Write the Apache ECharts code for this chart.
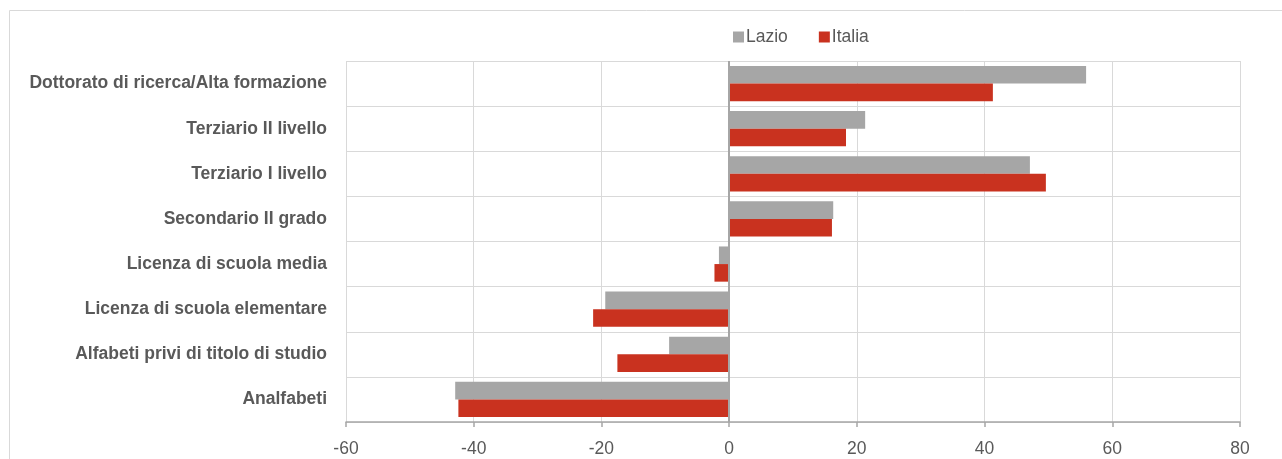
<!DOCTYPE html>
<html>
<head>
<meta charset="utf-8">
<script src="https://cdn.jsdelivr.net/npm/echarts@6/dist/echarts.min.js"></script>
<style>
  html, body { margin: 0; padding: 0; background: #fff; }
  #chart { width: 1282px; height: 459px; }
</style>
</head>
<body>
<div id="chart"></div>
<script>
// Education levels, listed top to bottom
const categories = [
  'Dottorato di ricerca/Alta formazione',
  'Terziario II livello',
  'Terziario I livello',
  'Secondario II grado',
  'Licenza di scuola media',
  'Licenza di scuola elementare',
  'Alfabeti privi di titolo di studio',
  'Analfabeti'
];
const lazio  = [55.9, 21.3, 47.1, 16.3, -1.6, -19.4, -9.4, -42.9];
const italia = [41.3, 18.3, 49.6, 16.1, -2.3, -21.3, -17.5, -42.4];
const seriesNames = ['Lazio', 'Italia'];
const xTicks = { min: -60, max: 80, step: 20 };

const FONT = "'Liberation Sans', Arial, sans-serif";
const TEXT = '#595959';
const GRID = '#d9d9d9';

const chart = echarts.init(document.getElementById('chart'), null, { renderer: 'canvas' });

chart.setOption({
  animation: false,
  textStyle: { fontFamily: FONT },
  graphic: [{
    type: 'rect',
    shape: { x: 9.5, y: 10.5, width: 1400, height: 500 },
    style: { fill: 'none', stroke: GRID, lineWidth: 1 },
    silent: true,
    z: -10
  }],
  legend: {
    data: seriesNames,
    left: 728,
    top: 23,
    itemWidth: 11,
    itemHeight: 11,
    itemGap: 31,
    icon: 'rect',
    textStyle: { color: TEXT, fontSize: 17.5, fontFamily: FONT, padding: [0, 0, 0, -3] }
  },
  grid: { left: 346, right: 42, top: 61, bottom: 37, containLabel: false },
  xAxis: {
    type: 'value',
    min: xTicks.min,
    max: xTicks.max,
    interval: xTicks.step,
    axisLine: { show: true, lineStyle: { color: '#a6a6a6', width: 1.5 } },
    axisTick: { show: true, length: 5, lineStyle: { color: '#a6a6a6', width: 1.5 } },
    axisLabel: { color: TEXT, fontSize: 17.5, fontFamily: FONT, margin: 18 },
    splitLine: { show: true, lineStyle: { color: GRID, width: 1 } }
  },
  yAxis: {
    type: 'category',
    data: categories,
    inverse: true,
    axisLine: { show: false, onZero: false },
    axisTick: { show: false },
    axisLabel: { color: TEXT, fontSize: 17.5, fontWeight: 'bold', fontFamily: FONT, margin: 19 },
    splitLine: { show: true, lineStyle: { color: GRID, width: 1 } }
  },
  series: [
    {
      name: seriesNames[0],
      type: 'bar',
      data: lazio,
      barGap: '0%',
      barCategoryGap: '22%',
      itemStyle: { color: '#a6a6a6' },
      markLine: {
        silent: true,
        symbol: 'none',
        label: { show: false },
        lineStyle: { color: '#a6a6a6', width: 2, type: 'solid' },
        data: [{ xAxis: 0 }],
        z: 5
      }
    },
    {
      name: seriesNames[1],
      type: 'bar',
      data: italia,
      barGap: '0%',
      barCategoryGap: '22%',
      itemStyle: { color: '#c9321f' }
    }
  ]
});
</script>
</body>
</html>
